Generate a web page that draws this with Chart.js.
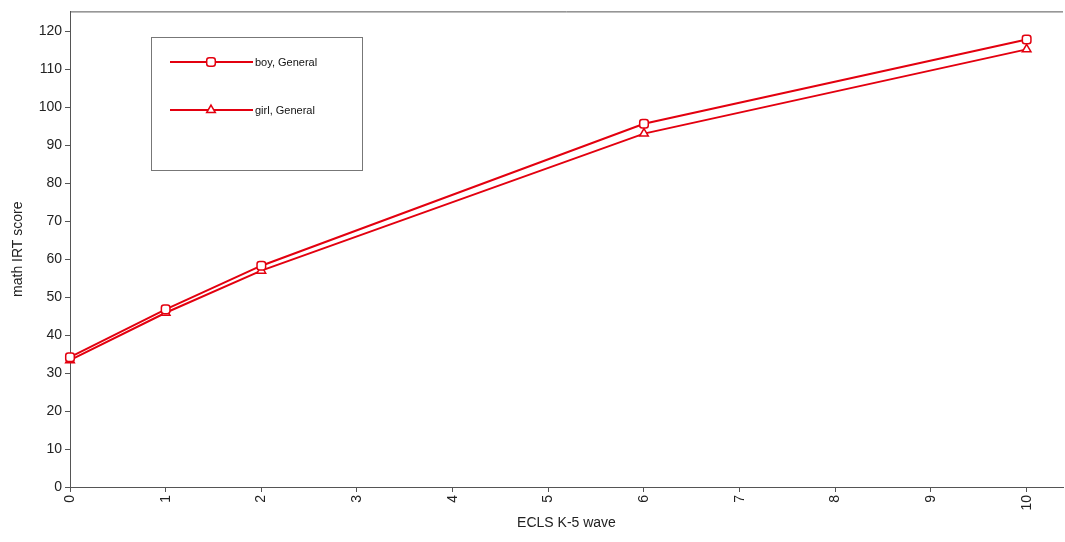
<!DOCTYPE html>
<html>
<head>
<meta charset="utf-8">
<script src="https://cdn.jsdelivr.net/npm/chart.js@4/dist/chart.umd.min.js"></script>
<style>
  html, body { margin: 0; padding: 0; background: #fff; }
  #wrap { width: 1065px; height: 542px; position: relative; }
</style>
</head>
<body>
<div id="wrap"><canvas id="c" width="1065" height="542"></canvas></div>
<script>
// ECLS K-5 waves and mean math IRT scores
const waves = [0, 1, 2, 6, 10];
const boyGeneral = [34.2, 46.8, 58.3, 95.7, 117.9];
const girlGeneral = [33.4, 45.9, 57.0, 93.1, 115.3];
const seriesLabels = ['boy, General', 'girl, General'];
const xTickValues = [0, 1, 2, 3, 4, 5, 6, 7, 8, 9, 10];
const yTickValues = [0, 10, 20, 30, 40, 50, 60, 70, 80, 90, 100, 110, 120];

const RED = '#e3000f';
const AXIS = '#555555';
const FONT = "'Liberation Sans', Arial, sans-serif";

// Top frame line across the plot area
const frameTop = {
  id: 'frameTop',
  afterDraw(chart) {
    const { ctx, chartArea: a } = chart;
    ctx.save();
    ctx.strokeStyle = AXIS;
    ctx.lineWidth = 1;
    ctx.beginPath();
    ctx.moveTo(a.left, a.top + 0.5);
    ctx.lineTo(a.right, a.top + 0.5);
    ctx.stroke();
    ctx.restore();
  }
};

// Boxed legend inside the plot, line with marker then label
const boxLegend = {
  id: 'boxLegend',
  afterDraw(chart) {
    const ctx = chart.ctx;
    const box = { x: 151.5, y: 37.5, w: 211, h: 133 };
    ctx.save();
    ctx.strokeStyle = '#777';
    ctx.lineWidth = 1;
    ctx.strokeRect(box.x, box.y, box.w, box.h);
    const rows = [62, 110];
    chart.data.datasets.forEach((ds, i) => {
      const y = rows[i];
      ctx.strokeStyle = ds.borderColor;
      ctx.lineWidth = ds.borderWidth;
      ctx.beginPath();
      ctx.moveTo(170, y);
      ctx.lineTo(253, y);
      ctx.stroke();
      ctx.fillStyle = ds.pointBackgroundColor;
      ctx.strokeStyle = ds.pointBorderColor;
      ctx.lineWidth = ds.pointBorderWidth;
      Chart.helpers.drawPoint(ctx, {
        pointStyle: ds.pointStyle,
        radius: ds.pointRadius,
        borderWidth: ds.pointBorderWidth,
        rotation: 0
      }, 211, y);
      ctx.fillStyle = '#111';
      ctx.font = '11px ' + FONT;
      ctx.textBaseline = 'middle';
      ctx.textAlign = 'left';
      ctx.fillText(ds.label, 255, y + 1);
    });
    ctx.restore();
  }
};

function series(label, values, style) {
  return {
    label,
    data: waves.map((w, i) => ({ x: w, y: values[i] })),
    borderColor: RED,
    borderWidth: 2,
    pointStyle: style,
    pointRadius: 5,
    pointHoverRadius: 5,
    pointBorderWidth: 1.5,
    pointBackgroundColor: '#fff',
    pointBorderColor: RED,
    tension: 0,
    fill: false,
    clip: false
  };
}

new Chart(document.getElementById('c'), {
  type: 'line',
  data: {
    datasets: [
      series(seriesLabels[0], boyGeneral, 'rectRounded'),
      series(seriesLabels[1], girlGeneral, 'triangle')
    ]
  },
  options: {
    responsive: false,
    animation: false,
    layout: { autoPadding: false, padding: { top: 11, right: 2, left: 0, bottom: 0 } },
    plugins: { legend: { display: false }, tooltip: { enabled: false } },
    scales: {
      x: {
        type: 'linear',
        min: 0,
        max: 10.38,
        afterBuildTicks(scale) { scale.ticks = xTickValues.map(v => ({ value: v })); },
        afterFit(scale) { scale.height = 55; },
        ticks: {
          minRotation: 90,
          maxRotation: 90,
          padding: 3,
          color: '#222',
          font: { family: FONT, size: 14 }
        },
        grid: { display: true, drawOnChartArea: false, tickLength: 5, color: AXIS, tickColor: AXIS },
        border: { display: true, color: AXIS, width: 1 },
        title: {
          display: true,
          text: 'ECLS K-5 wave',
          color: '#222',
          font: { family: FONT, size: 14 },
          padding: { top: 4, bottom: 10 }
        }
      },
      y: {
        type: 'linear',
        min: 0,
        max: 125.3,
        afterBuildTicks(scale) { scale.ticks = yTickValues.map(v => ({ value: v })); },
        afterFit(scale) { scale.width = 70; },
        ticks: {
          padding: 3,
          color: '#222',
          font: { family: FONT, size: 14 }
        },
        grid: { display: true, drawOnChartArea: false, tickLength: 5, color: AXIS, tickColor: AXIS },
        border: { display: true, color: AXIS, width: 1 },
        title: {
          display: true,
          text: 'math IRT score',
          color: '#222',
          font: { family: FONT, size: 14 },
          padding: { top: 10, bottom: 4 }
        }
      }
    }
  },
  plugins: [frameTop, boxLegend]
});
</script>
</body>
</html>
